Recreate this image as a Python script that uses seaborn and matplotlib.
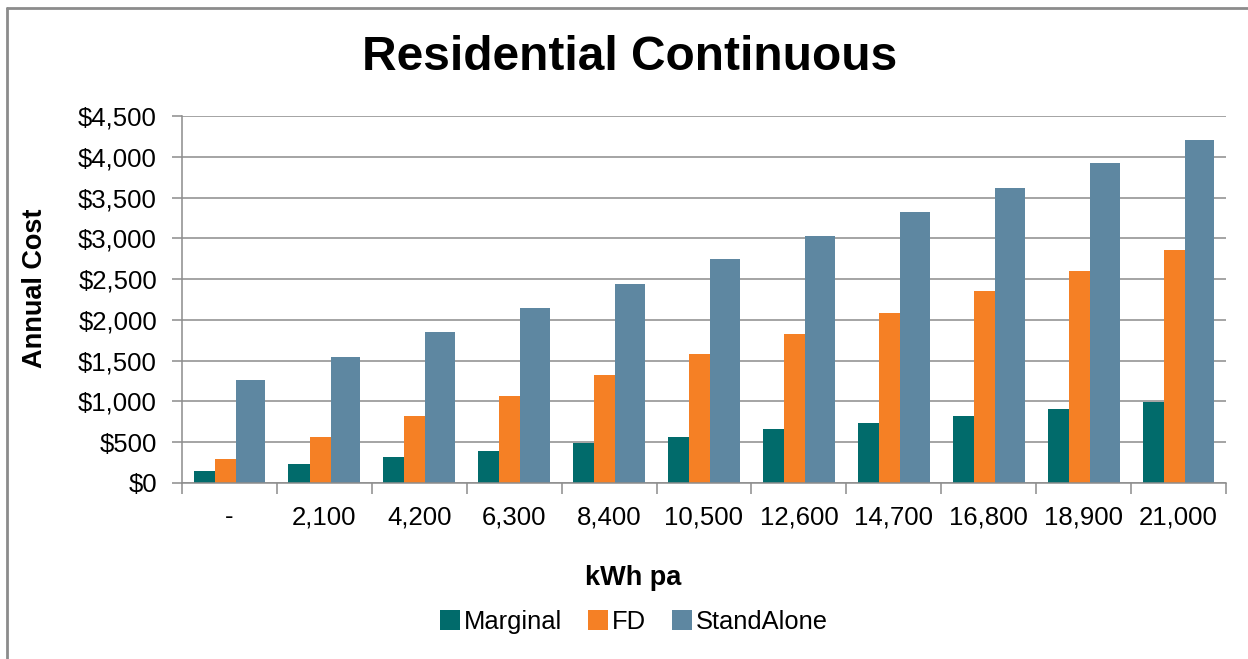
import pandas as pd
import matplotlib
matplotlib.use("Agg")
import matplotlib.pyplot as plt
from matplotlib.patches import Patch
from matplotlib.lines import Line2D
from matplotlib.ticker import FuncFormatter, MultipleLocator, FixedLocator
import seaborn as sns

kwh = ["-", "2,100", "4,200", "6,300", "8,400", "10,500",
       "12,600", "14,700", "16,800", "18,900", "21,000"]
marginal = [142, 233, 314, 392, 485, 564, 662, 739, 816, 910, 988]
fd = [294, 564, 816, 1070, 1319, 1581, 1830, 2087, 2353, 2602, 2855]
standalone = [1266, 1551, 1850, 2148, 2446, 2745, 3031, 3325, 3623, 3922, 4203]
series = ["Marginal", "FD", "StandAlone"]
colors = ["#016B6B", "#F58025", "#5E87A1"]

df = pd.DataFrame({
    "kWh pa": kwh * 3,
    "cost": marginal + fd + standalone,
    "series": [s for s in series for _ in kwh],
})

sns.set_style("white")
plt.rcParams["font.family"] = ["Liberation Sans", "DejaVu Sans"]
plt.rcParams["text.color"] = "black"

fig = plt.figure(figsize=(12.48, 6.59), dpi=100)
ax = fig.add_axes([182 / 1248, 1 - 483 / 659, (1226 - 182) / 1248, (483 - 116) / 659])

sns.barplot(data=df, x="kWh pa", y="cost", hue="series", order=kwh,
            hue_order=series, palette=colors, saturation=1, width=0.666,
            legend=False, ax=ax)

# excel style overlapping bars
for p in ax.patches:
    c = p.get_x() + p.get_width() / 2
    p.set_width(0.313)
    p.set_x(c - 0.313 / 2)
    p.set_linewidth(0)

ax.set_ylim(0, 4500)
ax.set_xlim(-0.5, len(kwh) - 0.5)
ax.yaxis.set_major_locator(MultipleLocator(500))
ax.yaxis.set_major_formatter(FuncFormatter(lambda v, pos: "${:,.0f}".format(v)))
ax.grid(axis="y", color="#8c8c8c", linewidth=1.1)
ax.set_axisbelow(True)
ax.set_xlabel("")
ax.set_ylabel("")

for s in ["top", "right"]:
    ax.spines[s].set_visible(False)
for s in ["left", "bottom"]:
    ax.spines[s].set_color("#8c8c8c")
    ax.spines[s].set_linewidth(1.1)

ax.tick_params(axis="y", which="major", length=7, width=1.1, color="#8c8c8c",
               pad=11, labelsize=18.5, labelcolor="black", left=True)
ax.tick_params(axis="x", which="major", length=0, pad=16, labelsize=18.5,
               labelcolor="black")
ax.xaxis.set_minor_locator(FixedLocator([i - 0.5 for i in range(len(kwh) + 1)]))
ax.tick_params(axis="x", which="minor", length=8, width=1.1, color="#8c8c8c",
               bottom=True)

fig.text(630 / 1248, 1 - 58 / 659, "Residential Continuous", ha="center",
         va="center", fontsize=34.5, fontweight="bold", color="black")
fig.text(35 / 1248, 1 - 288 / 659, "Annual Cost", ha="center", va="center",
         rotation=90, fontsize=19.5, fontweight="bold", color="black")
fig.text(633 / 1248, 1 - 578 / 659, "kWh pa", ha="center", va="center",
         fontsize=19.5, fontweight="bold", color="black")

handles = [Patch(facecolor=c, edgecolor="none") for c in colors]
fig.legend(handles, series, loc="center", bbox_to_anchor=(634 / 1248, 1 - 622 / 659),
           ncol=3, frameon=False, fontsize=18.4, handlelength=0.8,
           handleheight=0.8, handletextpad=0.15, columnspacing=1.0,
           labelcolor="black")

# chart border (left and top only visible)
fig.add_artist(Line2D([7 / 1248, 7 / 1248], [0, 1 - 8 / 659], color="#8c8c8c", lw=2))
fig.add_artist(Line2D([7 / 1248, 1], [1 - 8 / 659, 1 - 8 / 659], color="#8c8c8c", lw=2))

fig.savefig("out.png", dpi=100)
